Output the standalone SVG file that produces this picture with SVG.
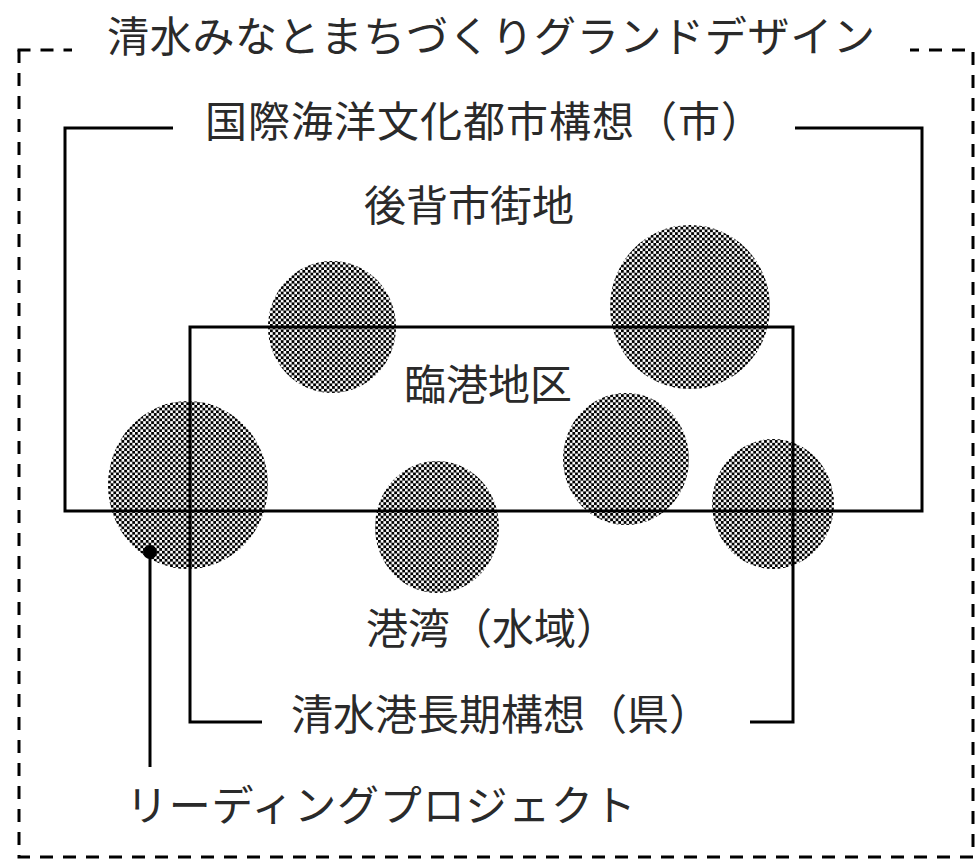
<svg xmlns="http://www.w3.org/2000/svg" width="975" height="864" viewBox="0 0 975 864">
<defs>
<pattern id="chk" patternUnits="userSpaceOnUse" width="5.4" height="5.4">
<rect x="0" y="0" width="2.8" height="2.8" fill="#000"/>
<rect x="2.7" y="2.7" width="2.8" height="2.8" fill="#000"/>
</pattern>
</defs>
<style>
.t{font-family:"Noto Sans CJK JP","Noto Sans CJK SC",sans-serif;font-size:42px;fill:#2a2a2a}
.c{fill:url(#chk)}
.ln{fill:none;stroke:#000;stroke-width:3}
.ds{fill:none;stroke:#000;stroke-width:3;stroke-dasharray:13 10}
</style>
<rect width="975" height="864" fill="#fff"/>
<g id="circles">
<ellipse id="c1" class="c" cx="188" cy="485" rx="80" ry="84"/>
<ellipse id="c2" class="c" cx="332" cy="327" rx="64" ry="66"/>
<ellipse id="c3" class="c" cx="690" cy="307" rx="80" ry="82"/>
<ellipse id="c4" class="c" cx="626" cy="459" rx="63" ry="66"/>
<ellipse id="c5" class="c" cx="773" cy="504" rx="61" ry="65"/>
<ellipse id="c6" class="c" cx="437" cy="527" rx="62" ry="66"/>
</g>
<g id="connectors">
<polyline class="ds" points="17.5,50 72,50"/>
<polyline class="ds" points="19,50 19,857 973,857 973,50 910,50"/>
<polyline class="ln" points="173,128 65,128 65,511 922,511 922,128 795,128"/>
<polyline class="ln" points="262,722 190,722 190,327 793,327 793,722 750,722"/>
<line class="ln" x1="150" y1="552" x2="150" y2="767"/>
<circle cx="150" cy="552" r="7" fill="#000"/>
</g>
<g id="labels">
<text id="title" class="t" x="107" y="52" letter-spacing="0.7">清水みなとまちづくりグランドデザイン</text>
<text id="city" class="t" x="205" y="137" letter-spacing="1">国際海洋文化都市構想（市）</text>
<text id="back" class="t" x="364" y="221">後背市街地</text>
<text id="rinko" class="t" x="404" y="400">臨港地区</text>
<text id="bay" class="t" x="366" y="644">港湾（水域）</text>
<text id="pref" class="t" x="291" y="730">清水港長期構想（県）</text>
<text id="lead" class="t" x="126" y="821" letter-spacing="0.8">リーディングプロジェクト</text>
</g>
</svg>
